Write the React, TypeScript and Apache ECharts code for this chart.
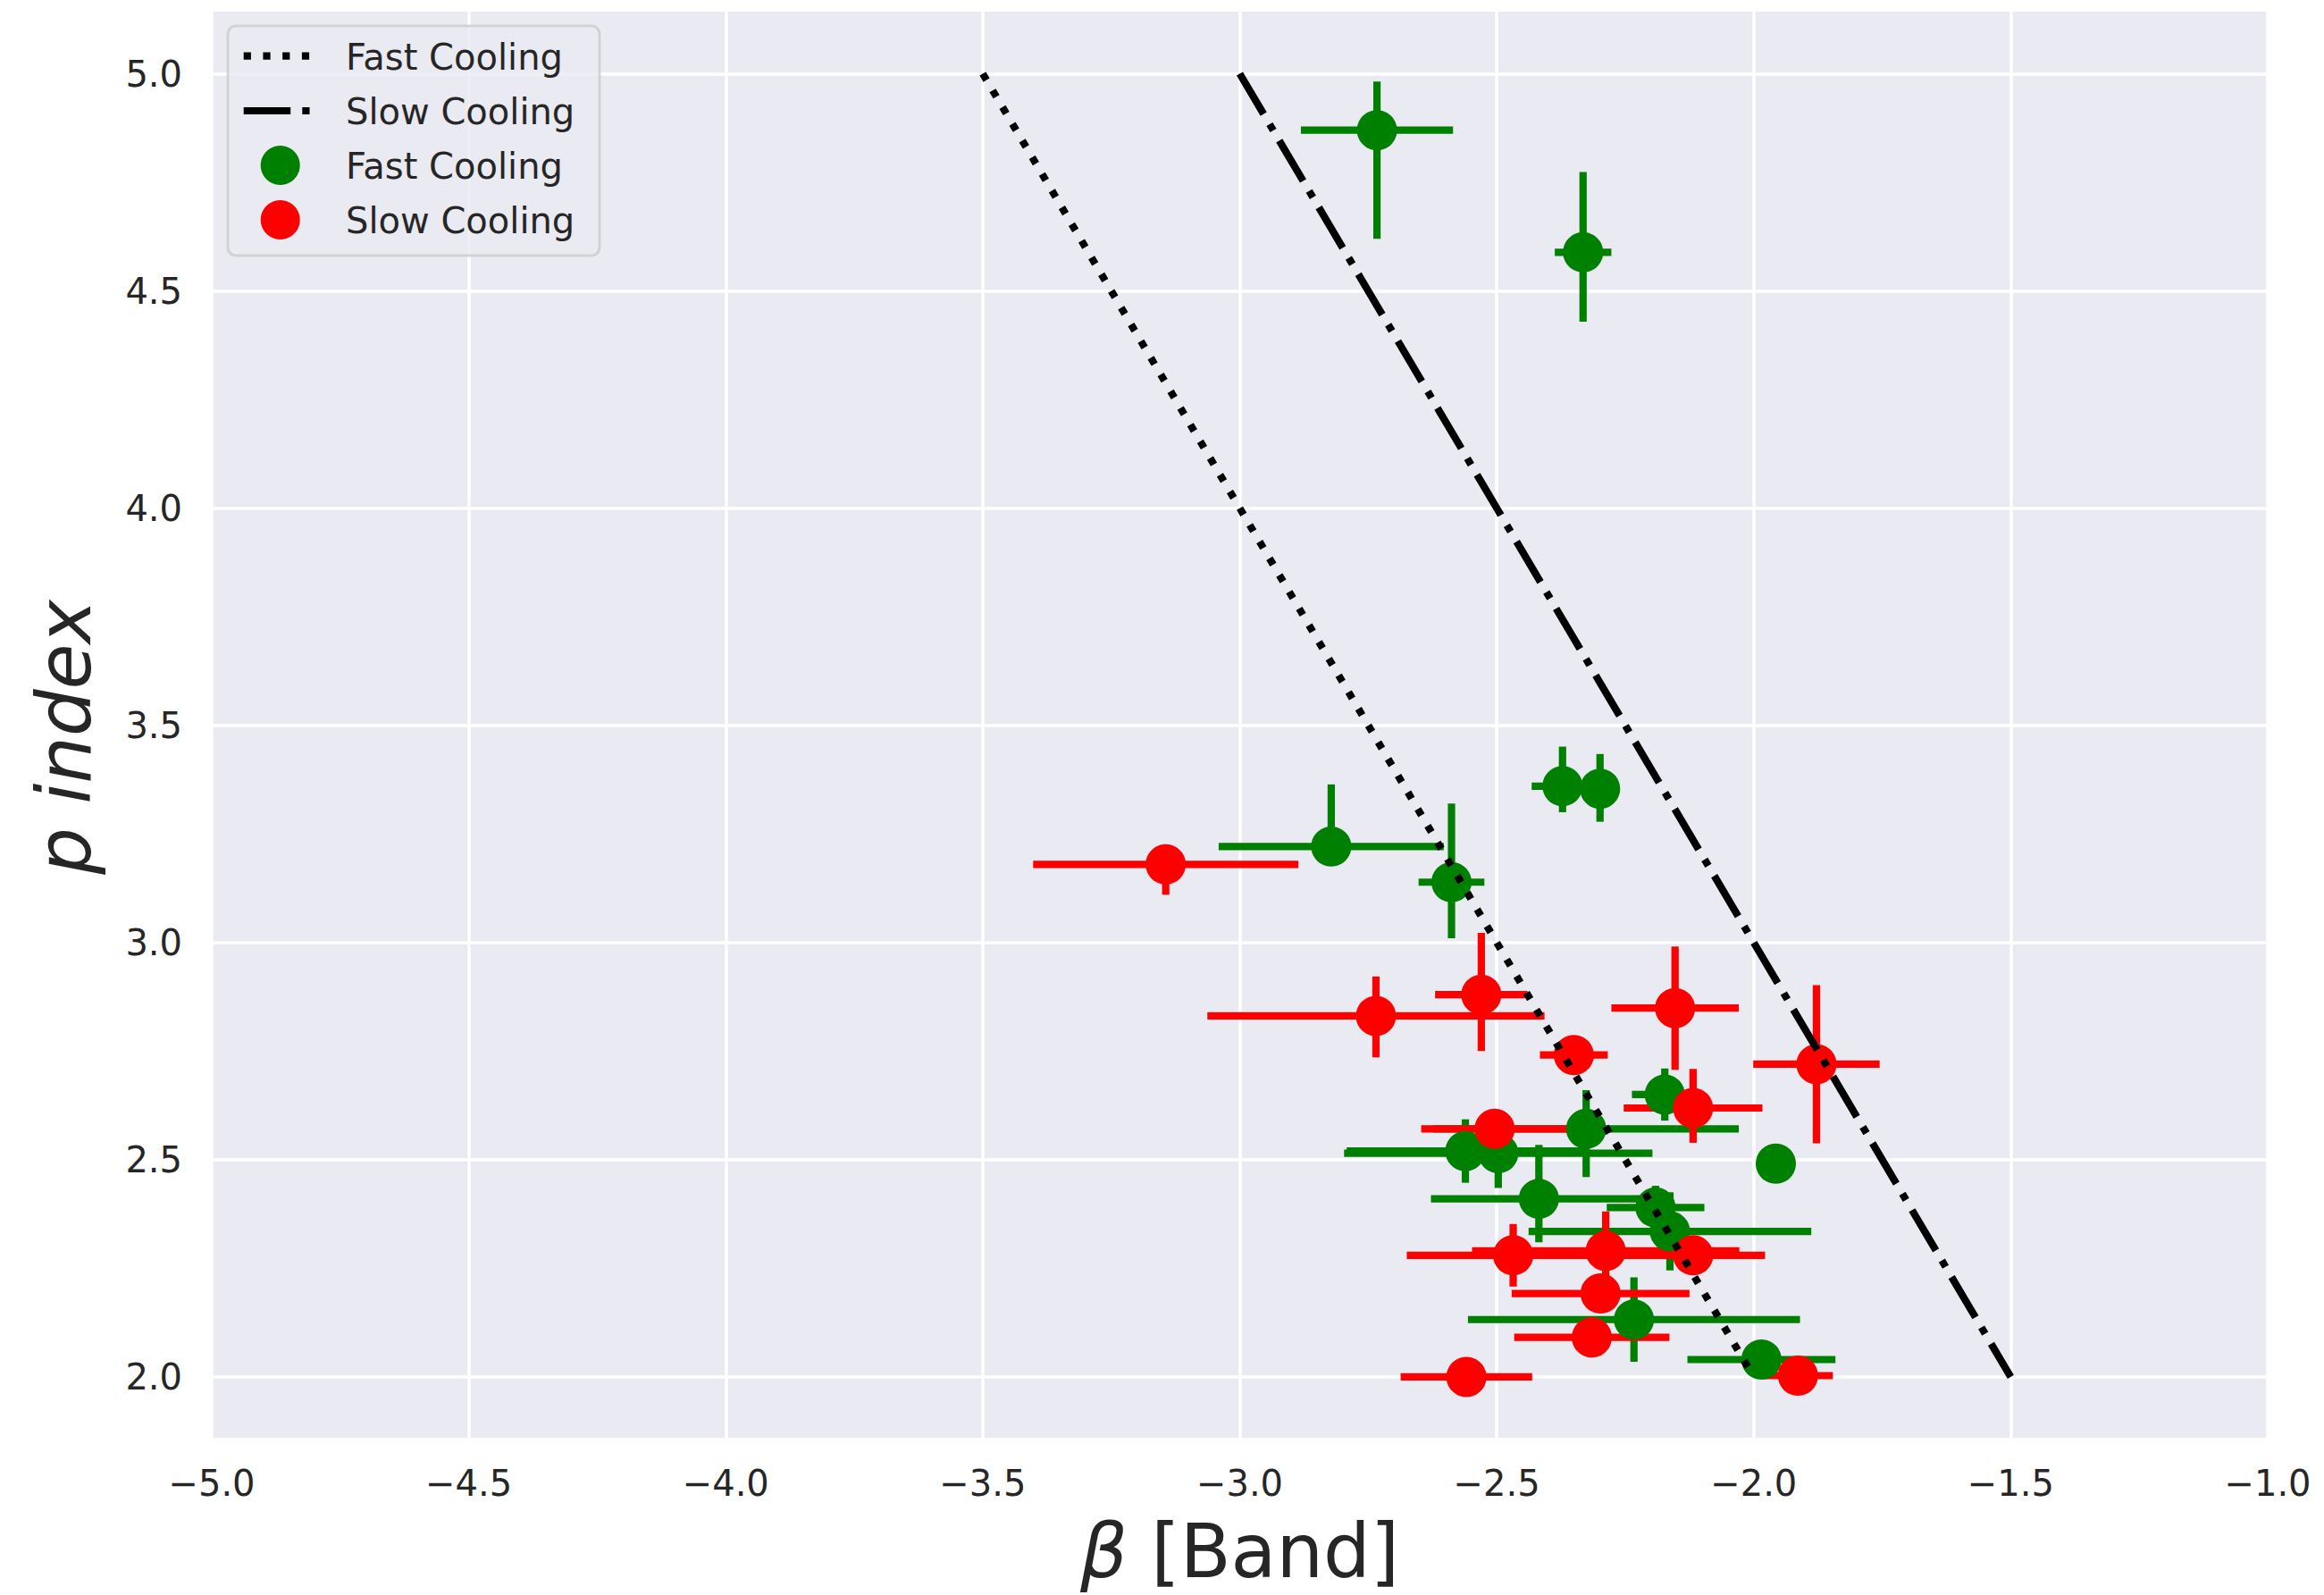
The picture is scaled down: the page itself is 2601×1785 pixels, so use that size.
import React, { useEffect, useRef } from "react";
import * as echarts from "echarts";

// Tick labels of the p axis
const pTicks = [2.0, 2.5, 3.0, 3.5, 4.0, 4.5, 5.0];

// Fast cooling GRBs: Band beta, p index and asymmetric errors
const fastBeta = [-2.733, -2.332, -2.372, -2.299, -2.822, -2.588, -2.173, -2.326, -2.561, -2.497, -2.418, -2.191, -2.163, -2.233, -1.985, -1.957];
const fastP = [4.87, 4.589, 3.36, 3.354, 3.221, 3.139, 2.65, 2.571, 2.52, 2.515, 2.41, 2.39, 2.335, 2.132, 2.04, 2.491];
const fastBetaErrLo = [0.148, 0.055, 0.06, 0.02, 0.219, 0.064, 0.064, 0.297, 0.231, 0.3, 0.21, 0.095, 0.275, 0.323, 0.144, 0.01];
const fastBetaErrHi = [0.148, 0.055, 0.06, 0.02, 0.219, 0.064, 0.064, 0.297, 0.231, 0.3, 0.21, 0.095, 0.275, 0.323, 0.144, 0.01];
const fastPErrLo = [0.25, 0.16, 0.06, 0.076, 0.03, 0.129, 0.06, 0.111, 0.073, 0.08, 0.1, 0.05, 0.09, 0.097, 0.01, 0.03];
const fastPErrHi = [0.112, 0.185, 0.091, 0.08, 0.143, 0.181, 0.06, 0.089, 0.073, 0.08, 0.124, 0.05, 0.09, 0.097, 0.01, 0.03];

// Slow cooling GRBs
const slowBeta = [-3.144, -2.735, -2.53, -2.153, -2.35, -1.878, -2.118, -2.504, -2.468, -2.288, -2.118, -2.298, -2.315, -1.914, -2.559];
const slowP = [3.18, 2.831, 2.88, 2.849, 2.741, 2.72, 2.619, 2.571, 2.28, 2.29, 2.28, 2.192, 2.091, 2.003, 2.0];
const slowBetaErrLo = [0.258, 0.328, 0.09, 0.124, 0.066, 0.123, 0.135, 0.143, 0.207, 0.26, 0.14, 0.173, 0.151, 0.068, 0.128];
const slowBetaErrHi = [0.258, 0.328, 0.09, 0.124, 0.066, 0.123, 0.135, 0.143, 0.207, 0.26, 0.14, 0.173, 0.151, 0.068, 0.128];
const slowPErrLo = [0.07, 0.095, 0.13, 0.142, 0.02, 0.182, 0.08, 0.02, 0.072, 0.08, 0.02, 0.02, 0.02, 0.02, 0.02];
const slowPErrHi = [0.03, 0.091, 0.142, 0.142, 0.02, 0.182, 0.09, 0.02, 0.072, 0.091, 0.02, 0.02, 0.02, 0.02, 0.02];

// Closure relations: p = -2*beta - 2 (fast) and p = -2*beta - 1 (slow)
const fastLineBeta = [-3.5, -2.0];
const fastLineP = [5.0, 2.0];
const slowLineBeta = [-3.0, -1.5];
const slowLineP = [5.0, 2.0];

const FONT = '"DejaVu Sans", "Liberation Sans", sans-serif';
const TEXT = "#262626";
const GREEN = "#008000";
const RED = "#ff0000";
const LW = 8.2;
const DOTTED = [LW, LW * 1.65];
const DASHDOT = [LW * 6.4, LW * 1.6, LW, LW * 1.6];

const zip = (...cols: number[][]) => cols[0].map((_, i) => cols.map((c) => c[i]));

const minusFmt = (v: number) => (v < 0 ? "\u2212" : "") + Math.abs(v).toFixed(1);

function errorBars(color: string) {
  return (params: any, api: any) => {
    const x = api.value(0);
    const y = api.value(1);
    const a = api.coord([x - api.value(2), y]);
    const b = api.coord([x + api.value(3), y]);
    const c = api.coord([x, y - api.value(4)]);
    const d = api.coord([x, y + api.value(5)]);
    const style = { stroke: color, lineWidth: LW, lineCap: "butt" };
    return {
      type: "group",
      children: [
        { type: "line", shape: { x1: a[0], y1: a[1], x2: b[0], y2: b[1] }, style },
        { type: "line", shape: { x1: c[0], y1: c[1], x2: d[0], y2: d[1] }, style },
      ],
    };
  };
}

export default function App() {
  const ref = useRef<HTMLDivElement>(null);

  useEffect(() => {
    if (!ref.current) return;
    const chart = echarts.init(ref.current, null, { renderer: "svg" });

    const fastRows = zip(fastBeta, fastP, fastBetaErrLo, fastBetaErrHi, fastPErrLo, fastPErrHi);
    const slowRows = zip(slowBeta, slowP, slowBetaErrLo, slowBetaErrHi, slowPErrLo, slowPErrHi);

    const legendText = (label: string, y: number) => ({
      type: "text",
      x: 387,
      y,
      style: {
        text: label,
        fill: TEXT,
        font: `40px ${FONT}`,
        align: "left",
        verticalAlign: "middle",
      },
      z: 101,
    });

    chart.setOption({
      animation: false,
      backgroundColor: "#ffffff",
      grid: {
        left: 237,
        right: 63,
        top: 13,
        bottom: 176,
        show: true,
        backgroundColor: "#EAEAF2",
        borderWidth: 0,
      },
      xAxis: {
        type: "value",
        min: -5,
        max: -1,
        interval: 0.5,
        axisLine: { show: false },
        axisTick: { show: false },
        splitLine: { show: true, lineStyle: { color: "#ffffff", width: 3.5 } },
        axisLabel: {
          formatter: minusFmt,
          fontSize: 40,
          fontFamily: FONT,
          color: TEXT,
          margin: 31,
          showMinLabel: true,
          showMaxLabel: true,
        },
        name: "{b|β} [Band]",
        nameLocation: "middle",
        nameGap: 86,
        nameTextStyle: {
          fontSize: 83,
          fontFamily: FONT,
          color: TEXT,
          rich: { b: { fontSize: 83, fontFamily: FONT, fontStyle: "italic", color: TEXT } },
        },
      },
      yAxis: {
        type: "value",
        min: 1.86,
        max: 5.143,
        axisLine: { show: false },
        axisTick: { show: false, customValues: pTicks },
        splitLine: { show: false },
        axisLabel: {
          customValues: pTicks,
          formatter: (v: number) => v.toFixed(1),
          fontSize: 40,
          fontFamily: FONT,
          color: TEXT,
          margin: 33,
        },
        name: "p index",
        nameLocation: "middle",
        nameRotate: 90,
        nameGap: 123,
        nameTextStyle: {
          fontSize: 83,
          fontFamily: FONT,
          fontStyle: "italic",
          color: TEXT,
          padding: [0, 28, 0, 0],
        },
      },
      graphic: [
        {
          type: "rect",
          shape: { x: 255, y: 29, width: 416, height: 257, r: 9 },
          style: { fill: "rgba(234,234,242,0.8)", stroke: "rgba(204,204,204,0.8)", lineWidth: 3 },
          z: 100,
        },
        {
          type: "line",
          shape: { x1: 272.7, y1: 62.7, x2: 348.5, y2: 62.7 },
          style: { stroke: "#000", lineWidth: LW, lineDash: DOTTED, lineCap: "butt" },
          z: 101,
        },
        {
          type: "line",
          shape: { x1: 272.7, y1: 124, x2: 348.5, y2: 124 },
          style: { stroke: "#000", lineWidth: LW, lineDash: DASHDOT, lineCap: "butt" },
          z: 101,
        },
        { type: "circle", shape: { cx: 313.7, cy: 185, r: 22 }, style: { fill: GREEN }, z: 101 },
        { type: "circle", shape: { cx: 313.7, cy: 246, r: 22 }, style: { fill: RED }, z: 101 },
        legendText("Fast Cooling", 64),
        legendText("Slow Cooling", 125),
        legendText("Fast Cooling", 186),
        legendText("Slow Cooling", 247),
      ],
      series: [
        {
          name: "pGrid",
          type: "line",
          data: [],
          silent: true,
          z: 1,
          markLine: {
            silent: true,
            z: 1,
            symbol: ["none", "none"],
            label: { show: false },
            lineStyle: { color: "#ffffff", width: 3.5, type: "solid" },
            emphasis: { disabled: true },
            data: pTicks.map((p) => ({ yAxis: p })),
          },
        },
        {
          name: "Fast Cooling",
          type: "line",
          data: zip(fastLineBeta, fastLineP),
          showSymbol: false,
          symbol: "none",
          silent: true,
          lineStyle: { color: "#000", width: LW, type: DOTTED, cap: "butt" },
        },
        {
          name: "Slow Cooling",
          type: "line",
          data: zip(slowLineBeta, slowLineP),
          showSymbol: false,
          symbol: "none",
          silent: true,
          lineStyle: { color: "#000", width: LW, type: DASHDOT, cap: "butt" },
        },
        {
          name: "Fast Cooling errors",
          type: "custom",
          renderItem: errorBars(GREEN),
          data: fastRows,
          encode: { x: 0, y: 1 },
          silent: true,
        },
        {
          name: "Fast Cooling GRBs",
          type: "scatter",
          data: zip(fastBeta, fastP),
          symbol: "circle",
          symbolSize: 45,
          itemStyle: { color: GREEN, opacity: 1 },
          silent: true,
        },
        {
          name: "Slow Cooling errors",
          type: "custom",
          renderItem: errorBars(RED),
          data: slowRows,
          encode: { x: 0, y: 1 },
          silent: true,
        },
        {
          name: "Slow Cooling GRBs",
          type: "scatter",
          data: zip(slowBeta, slowP),
          symbol: "circle",
          symbolSize: 45,
          itemStyle: { color: RED, opacity: 1 },
          silent: true,
        },
      ],
    });

    return () => chart.dispose();
  }, []);

  return (
    <div
      ref={ref}
      style={{ position: "fixed", left: 0, top: 0, width: 2601, height: 1785, background: "#fff" }}
    />
  );
}
